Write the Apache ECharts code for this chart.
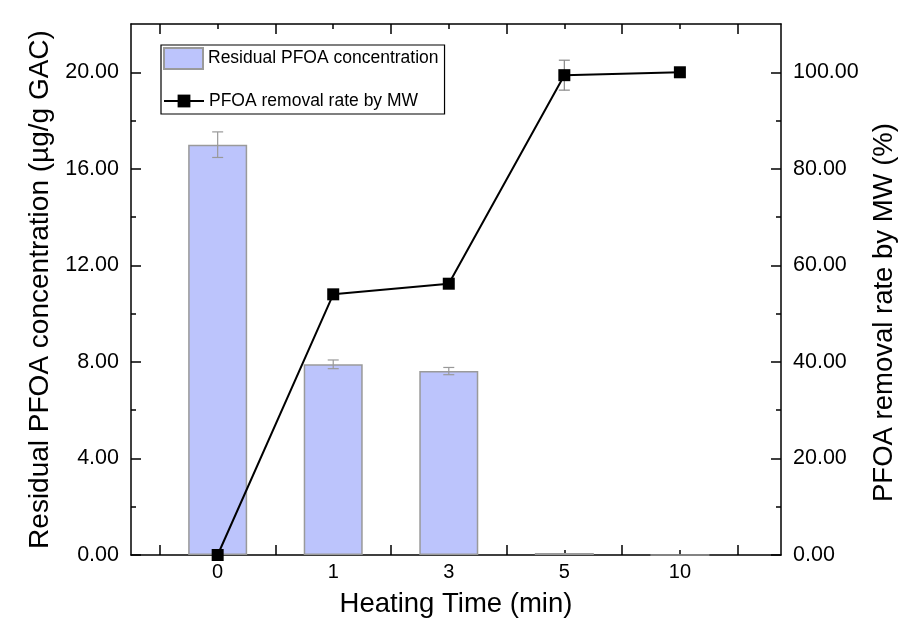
<!DOCTYPE html>
<html><head><meta charset="utf-8">
<script src="https://cdn.jsdelivr.net/npm/echarts@6/dist/echarts.min.js"></script>
<style>html,body{margin:0;padding:0;background:#fff}#c{width:906px;height:623px}</style>
</head><body><div id="c"></div>
<script>
const categories = ['0', '1', '3', '5', '10'];
const residual = [17.0, 7.9, 7.62, 0.08, 0];
const residualErr = [0.53, 0.18, 0.15, 0, 0];
const removal = [0, 54.0, 56.2, 99.4, 100];
const removalErr = [0, 0, 0, 3.1, 0];
const leftTicks = [0, 4, 8, 12, 16, 20];
const leftMinor = [2, 6, 10, 14, 18];
const rightTicks = [0, 20, 40, 60, 80, 100];
const rightMinor = [10, 30, 50, 70, 90];

const idx = categories.map((c, i) => i);
const halfTicks = [-0.5, 0.5, 1.5, 2.5, 3.5, 4.5];
const FONT = '"Liberation Sans", Arial, sans-serif';
const XMIN = -0.75, XMAX = 4.875;

function xAx(pos, major, showLine, showLabel) {
  return {
    type: 'value', position: pos, min: XMIN, max: XMAX,
    axisLine: {show: showLine, onZero: false, lineStyle: {color: '#000', width: 1.5}},
    axisTick: {show: true, inside: true, length: major ? 10 : 5, lineStyle: {color: '#000', width: 1.5},
      customValues: major ? halfTicks : idx},
    axisLabel: {show: showLabel, customValues: idx, formatter: v => categories[Math.round(v)] ?? '',
      fontFamily: FONT, fontSize: 20, color: '#000', margin: 7},
    splitLine: {show: false},
    name: showLabel ? 'Heating Time (min)' : '', nameLocation: 'middle', nameGap: 35,
    nameTextStyle: {fontFamily: FONT, fontSize: 27.5, color: '#000'}
  };
}
function yAx(pos, max, ticks, len, showLine, showLabel, name, gap, nameSize, namePad) {
  return {
    type: 'value', position: pos, min: 0, max: max,
    axisLine: {show: showLine, onZero: false, lineStyle: {color: '#000', width: 1.5}},
    axisTick: {show: true, inside: true, length: len, lineStyle: {color: '#000', width: 1.5}, customValues: ticks},
    axisLabel: {show: showLabel, customValues: ticks, formatter: v => v.toFixed(2),
      fontFamily: FONT, fontSize: 21.5, color: '#000', margin: 12},
    splitLine: {show: false},
    name: name, nameLocation: 'middle', nameGap: gap,
    nameTextStyle: {fontFamily: FONT, fontSize: nameSize || 27.5, color: '#000', padding: namePad || 0}
  };
}

function errRender(color) {
  return function (params, api) {
    const i = api.value(0);
    const v = api.value(1), e = api.value(2);
    if (!e) return null;
    const top = api.coord([i, v + e]);
    const bot = api.coord([i, v - e]);
    const hw = 5.5;
    const st = {stroke: color, lineWidth: 1.2};
    return {type: 'group', children: [
      {type: 'line', shape: {x1: top[0], y1: top[1], x2: bot[0], y2: bot[1]}, style: st},
      {type: 'line', shape: {x1: top[0] - hw, y1: top[1], x2: top[0] + hw, y2: top[1]}, style: st},
      {type: 'line', shape: {x1: bot[0] - hw, y1: bot[1], x2: bot[0] + hw, y2: bot[1]}, style: st}
    ]};
  };
}

const legendText = {fontFamily: FONT, fontSize: 17.5, color: '#000'};
const chart = echarts.init(document.getElementById('c'));
chart.setOption({
  animation: false,
  grid: {left: 131, right: 116, top: 24, bottom: 67, containLabel: false},
  legend: [
    {orient: 'vertical', left: 161, top: 45, itemWidth: 39, itemHeight: 21, icon: 'rect',
     borderColor: '#000', borderWidth: 1.2, borderRadius: 0, padding: [2, 6, 44, 2],
     textStyle: legendText, data: [{name: 'Residual PFOA concentration'}]},
    {orient: 'vertical', left: 163, top: 92, itemWidth: 40, itemHeight: 16, padding: 0,
     textStyle: legendText, data: [{name: 'PFOA removal rate by MW'}]}
  ],
  xAxis: [xAx('bottom', true, true, true), xAx('bottom', false, false, false),
          xAx('top', true, true, false), xAx('top', false, false, false)],
  yAxis: [
    yAx('left', 22, leftTicks, 10, true, true, 'Residual PFOA concentration (µg/g GAC)', 74, 28),
    yAx('right', 110, rightTicks, 10, true, true, 'PFOA removal rate by MW (%)', 89, 27.5, [0, 46, 0, 0]),
    yAx('left', 22, leftMinor, 5, false, false, '', 0),
    yAx('right', 110, rightMinor, 5, false, false, '', 0)
  ],
  series: [
    {name: 'Residual PFOA concentration', type: 'bar', xAxisIndex: 0, yAxisIndex: 0, barWidth: 59,
     data: idx.map(i => [i, residual[i]]),
     itemStyle: {color: '#bcc4fc', borderColor: '#9a9a9a', borderWidth: 1.5}, z: 2},
    {type: 'custom', xAxisIndex: 0, yAxisIndex: 0, z: 3,
     renderItem: errRender('#999'),
     data: idx.map(i => [i, residual[i], residualErr[i]])},
    {type: 'custom', xAxisIndex: 0, yAxisIndex: 1, z: 4,
     renderItem: errRender('#888'),
     data: idx.map(i => [i, removal[i], removalErr[i]])},
    {name: 'PFOA removal rate by MW', type: 'line', xAxisIndex: 0, yAxisIndex: 1, z: 5,
     data: idx.map(i => [i, removal[i]]),
     symbol: 'rect', symbolSize: 12,
     itemStyle: {color: '#000'}, lineStyle: {color: '#000', width: 2}}
  ]
});
</script></body></html>
